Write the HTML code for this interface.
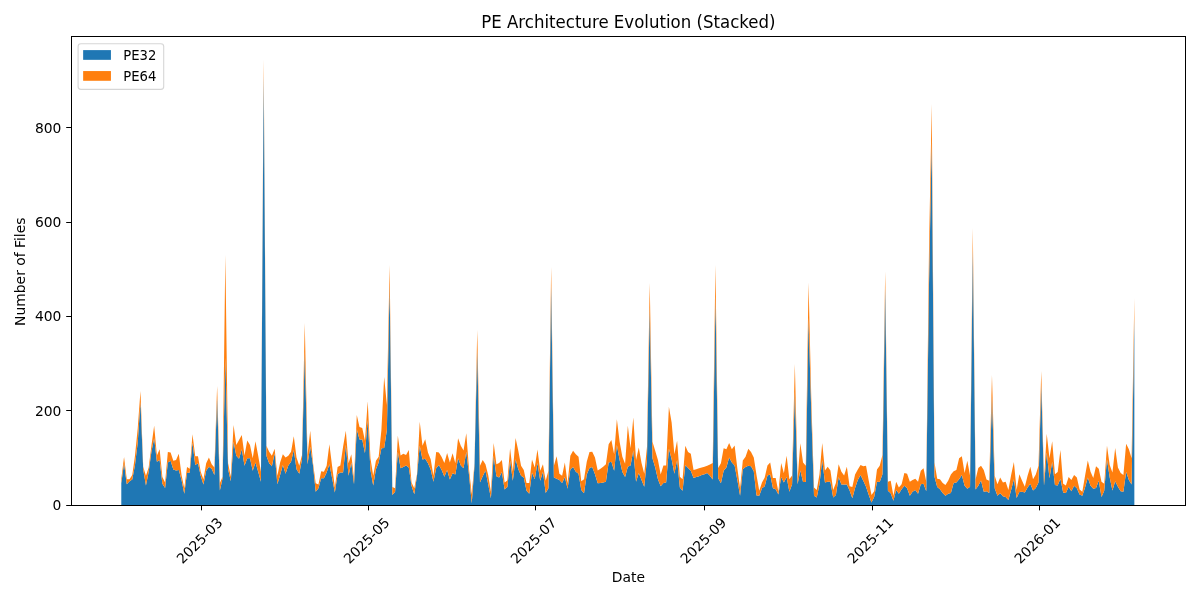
<!DOCTYPE html>
<html lang="en">
<head>
<meta charset="utf-8">
<title>PE Architecture Evolution (Stacked)</title>
<style>
html,body{margin:0;padding:0;background:#fff;}
body{width:1200px;height:600px;overflow:hidden;}
svg{display:block;}
text{font-family:"DejaVu Sans","Liberation Sans",sans-serif;fill:#000;}
.t{font-size:13.8889px;}
.h{font-size:16.6667px;}
</style>
</head>
<body>
<svg width="1200" height="600" viewBox="0 0 1200 600" role="img" aria-label="PE Architecture Evolution (Stacked)">
<rect x="0" y="0" width="1200" height="600" fill="#ffffff"/>
<g id="areas">
<path id="pe32" fill="#1f77b4" d="M121.3,505.08L121.3,483.33L124.04,463.33L126.78,484.17L129.52,481.25L132.26,479.58L134.99,465L137.73,442.5L140.47,402L143.21,469.58L145.95,485.42L148.68,471.67L151.42,451.67L154.16,438.33L156.9,461.67L159.64,460L162.37,483.75L165.11,487.92L167.85,462.5L170.59,460.83L173.33,469.58L176.06,470.42L178.8,470L181.54,480L184.28,493.75L187.02,472.92L189.75,472.5L192.49,442.5L195.23,465L197.97,463.33L200.71,475.83L203.44,484.58L206.18,470.83L208.92,466.67L211.66,468.75L214.4,475L217.13,398L219.87,490.42L222.61,478.33L225.35,358L228.09,469.17L230.82,481.25L233.56,441.67L236.3,455.83L239.04,458.75L241.77,449.17L244.51,465.83L247.25,458.33L249.99,458.33L252.73,470.83L255.46,462.5L258.2,471.67L260.94,481.67L263.68,76L266.42,455.83L269.15,463.33L271.89,466.25L274.63,453.33L277.37,484.17L280.11,475L282.84,465L285.58,473.75L288.32,465.42L291.06,461.67L293.8,450L296.53,469.17L299.27,473.75L302.01,459.17L304.75,352L307.49,464.17L310.22,446.67L312.96,465L315.7,491.67L318.44,488.33L321.18,478.33L323.91,478.33L326.65,472.5L329.39,464.17L332.13,478.33L334.87,492.5L337.6,474.17L340.34,472.5L343.08,472.5L345.82,445L348.56,475.83L351.29,462.5L354.03,484.17L356.77,429.17L359.51,439.58L362.24,439.58L364.98,453.33L367.72,420L370.46,470L373.2,485.42L375.93,469.17L378.67,462.5L381.41,448.33L384.15,448L386.89,430L389.62,285L392.36,495L395.1,491.67L397.84,451.67L400.58,468.33L403.31,467.08L406.05,465.42L408.79,467.5L411.53,485.83L414.27,494.17L417,475.83L419.74,445.83L422.48,459.58L425.22,458.75L427.96,463.33L430.69,469.58L433.43,481.67L436.17,468.33L438.91,465L441.65,470L444.38,476.67L447.12,470L449.86,479.58L452.6,473.33L455.34,474.58L458.07,458.33L460.81,465.42L463.55,468.33L466.29,451.67L469.03,475L471.76,503.33L474.5,465.83L477.24,350L479.98,482.5L482.71,476.25L485.45,470.42L488.19,484.17L490.93,498.33L493.67,455.83L496.4,476.25L499.14,477.5L501.88,472.08L504.62,489.58L507.36,487.08L510.09,460.42L512.83,480.83L515.57,459.17L518.31,469.17L521.05,475.83L523.78,477.5L526.52,490.83L529.26,493.75L532,472.5L534.74,479.17L537.47,462.92L540.21,480.83L542.95,471.67L545.69,492.92L548.43,488.33L551.16,286L553.9,477.5L556.64,478.75L559.38,480L562.12,482.92L564.85,477.08L567.59,488.75L570.33,469.58L573.07,467.08L575.81,471.67L578.54,473.75L581.28,490L584.02,493.33L586.76,474.58L589.5,467.92L592.23,467.08L594.97,474.17L597.71,483.33L600.45,482.92L603.18,482.5L605.92,481.67L608.66,462.5L611.4,461.67L614.14,470.83L616.87,445L619.61,460L622.35,472.08L625.09,477.08L627.83,466.67L630.56,465.42L633.3,450.42L636.04,481.67L638.78,472.92L641.52,480L644.25,486.67L646.99,459.17L649.73,308L652.47,458.33L655.21,467.5L657.94,479.17L660.68,486.25L663.42,482.92L666.16,482.5L668.9,448.75L671.63,459.17L674.37,473.75L677.11,460L679.85,487.5L682.59,490.83L685.32,465L688.06,467.92L690.8,470.83L693.54,477.92L696.28,477.08L699.01,476.25L701.75,475L704.49,474.17L707.23,472.92L709.97,475.83L712.7,479.58L715.44,297L718.18,478.33L720.92,483.33L723.65,470.83L726.39,467.5L729.13,457.5L731.87,462.5L734.61,465.42L737.34,480L740.08,495.83L742.82,469.17L745.56,467.08L748.3,465.83L751.03,466.25L753.77,471.25L756.51,495.42L759.25,495.83L761.99,488.33L764.72,486.25L767.46,475.42L770.2,474.58L772.94,488.33L775.68,489.17L778.41,494.58L781.15,477.08L783.89,482.5L786.63,477.08L789.37,491.67L792.1,484.17L794.84,392L797.58,484.17L800.32,470.42L803.06,482.08L805.79,482.08L808.53,318L811.27,412L814.01,495.83L816.75,497.5L819.48,484.17L822.22,460L824.96,482.5L827.7,481.67L830.43,481.67L833.17,497.5L835.91,495L838.65,477.08L841.39,484.58L844.12,484.58L846.86,484.58L849.6,490.42L852.34,498.33L855.08,487.92L857.81,480L860.55,475L863.29,480.83L866.03,486.67L868.77,495L871.5,502.5L874.24,496.67L876.98,481.67L879.72,482.08L882.46,474.17L885.19,288L887.93,490.83L890.67,493.33L893.41,500.83L896.15,490L898.88,493.75L901.62,489.17L904.36,485.83L907.1,488.33L909.84,495.83L912.57,491.67L915.31,490L918.05,493.75L920.79,484.17L923.53,483.75L926.26,491.25L929,285L931.74,140L934.48,476.67L937.22,487.08L939.95,489.17L942.69,492.92L945.43,495.83L948.17,493.75L950.9,492.92L953.64,482.92L956.38,482.5L959.12,479.17L961.86,475L964.59,485.83L967.33,488.75L970.07,486.67L972.81,250L975.55,489.58L978.28,485.83L981.02,480.42L983.76,491.67L986.5,491.25L989.24,492.92L991.97,396L994.71,488.33L997.45,495.83L1000.19,493.33L1002.93,496.25L1005.66,497.08L1008.4,500L1011.14,490L1013.88,479.17L1016.62,497.92L1019.35,492.08L1022.09,491.67L1024.83,492.5L1027.57,487.5L1030.31,483.75L1033.04,490.42L1035.78,487.92L1038.52,482.5L1041.26,385L1044,485.83L1046.73,452.5L1049.47,478.33L1052.21,461.67L1054.95,485L1057.69,485.42L1060.42,478.75L1063.16,492.5L1065.9,492.92L1068.64,486.67L1071.37,491.25L1074.11,485.83L1076.85,488.33L1079.59,494.58L1082.33,495.83L1085.06,487.5L1087.8,477.5L1090.54,485.83L1093.28,488.75L1096.02,487.92L1098.75,480.83L1101.49,497.08L1104.23,490.83L1106.97,459.17L1109.71,477.5L1112.44,490.42L1115.18,481.25L1117.92,486.67L1120.66,491.25L1123.4,491.67L1126.13,471.67L1128.87,480L1131.61,484.58L1134.35,318L1134.35,505.08Z"/>
<path id="pe64" fill="#ff7f0e" d="M121.3,483.33L121.3,478.75L124.04,457.08L126.78,479.17L129.52,479.17L132.26,475L134.99,455.83L137.73,428.33L140.47,391L143.21,466.67L145.95,475.83L148.68,467.5L151.42,445.83L154.16,425.83L156.9,455.42L159.64,449.17L162.37,477.08L165.11,482.5L167.85,452.08L170.59,452.5L173.33,460.83L176.06,460L178.8,453.75L181.54,475L184.28,488.33L187.02,467.08L189.75,468.75L192.49,434.17L195.23,456.25L197.97,456.25L200.71,471.67L203.44,479.17L206.18,463.33L208.92,457.5L211.66,464.17L214.4,467.5L217.13,386L219.87,482.92L222.61,476.67L225.35,255L228.09,463.33L230.82,476.67L233.56,425L236.3,445L239.04,440L241.77,435L244.51,455.42L247.25,440.42L249.99,445L252.73,458.33L255.46,441.25L258.2,455.83L260.94,471.67L263.68,59.5L266.42,445.83L269.15,451.67L271.89,455.83L274.63,448.75L277.37,475.83L280.11,462.5L282.84,454.17L285.58,457.5L288.32,455.83L291.06,451.67L293.8,436.25L296.53,457.5L299.27,465.83L302.01,455L304.75,323L307.49,455L310.22,430.83L312.96,462.5L315.7,483.33L318.44,484.58L321.18,471.25L323.91,471.67L326.65,465.83L329.39,444.17L332.13,466.25L334.87,487.5L337.6,467.08L340.34,465.42L343.08,446.67L345.82,430.83L348.56,463.33L351.29,454.17L354.03,479.17L356.77,415L359.51,427.08L362.24,427.92L364.98,440.83L367.72,401.25L370.46,458.33L373.2,475.83L375.93,460.83L378.67,456.67L381.41,430L384.15,377L386.89,405L389.62,265L392.36,487.08L395.1,488.33L397.84,435.83L400.58,455.42L403.31,453.75L406.05,455L408.79,450L411.53,482.5L414.27,488.33L417,474.17L419.74,421.67L422.48,445.83L425.22,439.17L427.96,452.5L430.69,459.17L433.43,475.83L436.17,452.08L438.91,452.5L441.65,457.08L444.38,462.92L447.12,452.92L449.86,462.5L452.6,453.33L455.34,463.33L458.07,438.33L460.81,445.83L463.55,450.42L466.29,433.33L469.03,469.17L471.76,494.17L474.5,463.33L477.24,330L479.98,465.83L482.71,460L485.45,464.17L488.19,475L490.93,491.67L493.67,442.92L496.4,464.17L499.14,462.92L501.88,460L504.62,482.5L507.36,480.42L510.09,448.33L512.83,471.67L515.57,437.92L518.31,450.83L521.05,465.83L523.78,470L526.52,482.92L529.26,482.92L532,459.58L534.74,467.5L537.47,449.58L540.21,470.83L542.95,464.17L545.69,480.83L548.43,470.83L551.16,267L553.9,465.83L556.64,456.25L559.38,473.75L562.12,475.83L564.85,462.5L567.59,483.33L570.33,455.83L573.07,450.83L575.81,454.17L578.54,456.67L581.28,481.25L584.02,479.17L586.76,461.67L589.5,452.08L592.23,451.67L594.97,457.5L597.71,470.42L600.45,468.75L603.18,466.67L605.92,464.17L608.66,444.17L611.4,440L614.14,454.17L616.87,419.17L619.61,441.67L622.35,456.67L625.09,463.75L627.83,425.83L630.56,448.33L633.3,417.5L636.04,460L638.78,447.5L641.52,462.92L644.25,473.75L646.99,446.67L649.73,283L652.47,441.67L655.21,450.83L657.94,460L660.68,474.58L663.42,465.42L666.16,465.42L668.9,406.67L671.63,422.5L674.37,454.17L677.11,440.83L679.85,476.67L682.59,479.17L685.32,445.83L688.06,452.08L690.8,453.75L693.54,470L696.28,469.17L699.01,468.33L701.75,467.5L704.49,466.67L707.23,465.83L709.97,464.58L712.7,462.92L715.44,265L718.18,467.92L720.92,463.33L723.65,448.33L726.39,449.17L729.13,442.92L731.87,449.17L734.61,445.42L737.34,468.33L740.08,488.33L742.82,460.42L745.56,456.67L748.3,448.75L751.03,452.08L753.77,457.5L756.51,475L759.25,490.83L761.99,482.5L764.72,477.5L767.46,465.42L770.2,462.5L772.94,477.92L775.68,477.92L778.41,491.67L781.15,462.92L783.89,473.33L786.63,455.83L789.37,479.17L792.1,475.42L794.84,364L797.58,479.17L800.32,443.33L803.06,462.5L805.79,465.83L808.53,282.5L811.27,398L814.01,487.5L816.75,490L819.48,474.17L822.22,442.92L824.96,470.42L827.7,466.67L830.43,470.42L833.17,490L835.91,482.92L838.65,464.17L841.39,471.67L844.12,475.42L846.86,466.67L849.6,486.25L852.34,487.08L855.08,474.58L857.81,469.58L860.55,465L863.29,466.25L866.03,465.83L868.77,480.83L871.5,495L874.24,491.25L876.98,469.58L879.72,465.83L882.46,455L885.19,271.5L887.93,481.67L890.67,480.83L893.41,495.83L896.15,481.67L898.88,487.5L901.62,484.17L904.36,472.92L907.1,473.75L909.84,481.67L912.57,480L915.31,478.75L918.05,481.67L920.79,470.83L923.53,468.33L926.26,481.67L929,250L931.74,104L934.48,462.5L937.22,478.75L939.95,479.17L942.69,482.92L945.43,485L948.17,480.83L950.9,474.58L953.64,471.25L956.38,470L959.12,458.33L961.86,456.25L964.59,472.92L967.33,460.83L970.07,475.83L972.81,228L975.55,479.58L978.28,467.92L981.02,465.83L983.76,470L986.5,479.58L989.24,480.83L991.97,375L994.71,475.83L997.45,484.17L1000.19,477.5L1002.93,482.5L1005.66,481.67L1008.4,490L1011.14,475L1013.88,462.08L1016.62,490L1019.35,474.17L1022.09,480.83L1024.83,486.67L1027.57,475.83L1030.31,466.67L1033.04,479.17L1035.78,474.58L1038.52,465.83L1041.26,371L1044,480L1046.73,433.75L1049.47,458.33L1052.21,441.25L1054.95,474.17L1057.69,472.08L1060.42,450L1063.16,483.75L1065.9,485.42L1068.64,477.08L1071.37,480L1074.11,475L1076.85,477.5L1079.59,489.58L1082.33,491.67L1085.06,475.83L1087.8,460.42L1090.54,471.67L1093.28,477.92L1096.02,466.25L1098.75,468.75L1101.49,481.67L1104.23,483.75L1106.97,445.83L1109.71,465L1112.44,472.5L1115.18,447.92L1117.92,467.5L1120.66,472.92L1123.4,475L1126.13,443.75L1128.87,449.17L1131.61,458.33L1134.35,298L1134.35,318L1131.61,484.58L1128.87,480L1126.13,471.67L1123.4,491.67L1120.66,491.25L1117.92,486.67L1115.18,481.25L1112.44,490.42L1109.71,477.5L1106.97,459.17L1104.23,490.83L1101.49,497.08L1098.75,480.83L1096.02,487.92L1093.28,488.75L1090.54,485.83L1087.8,477.5L1085.06,487.5L1082.33,495.83L1079.59,494.58L1076.85,488.33L1074.11,485.83L1071.37,491.25L1068.64,486.67L1065.9,492.92L1063.16,492.5L1060.42,478.75L1057.69,485.42L1054.95,485L1052.21,461.67L1049.47,478.33L1046.73,452.5L1044,485.83L1041.26,385L1038.52,482.5L1035.78,487.92L1033.04,490.42L1030.31,483.75L1027.57,487.5L1024.83,492.5L1022.09,491.67L1019.35,492.08L1016.62,497.92L1013.88,479.17L1011.14,490L1008.4,500L1005.66,497.08L1002.93,496.25L1000.19,493.33L997.45,495.83L994.71,488.33L991.97,396L989.24,492.92L986.5,491.25L983.76,491.67L981.02,480.42L978.28,485.83L975.55,489.58L972.81,250L970.07,486.67L967.33,488.75L964.59,485.83L961.86,475L959.12,479.17L956.38,482.5L953.64,482.92L950.9,492.92L948.17,493.75L945.43,495.83L942.69,492.92L939.95,489.17L937.22,487.08L934.48,476.67L931.74,140L929,285L926.26,491.25L923.53,483.75L920.79,484.17L918.05,493.75L915.31,490L912.57,491.67L909.84,495.83L907.1,488.33L904.36,485.83L901.62,489.17L898.88,493.75L896.15,490L893.41,500.83L890.67,493.33L887.93,490.83L885.19,288L882.46,474.17L879.72,482.08L876.98,481.67L874.24,496.67L871.5,502.5L868.77,495L866.03,486.67L863.29,480.83L860.55,475L857.81,480L855.08,487.92L852.34,498.33L849.6,490.42L846.86,484.58L844.12,484.58L841.39,484.58L838.65,477.08L835.91,495L833.17,497.5L830.43,481.67L827.7,481.67L824.96,482.5L822.22,460L819.48,484.17L816.75,497.5L814.01,495.83L811.27,412L808.53,318L805.79,482.08L803.06,482.08L800.32,470.42L797.58,484.17L794.84,392L792.1,484.17L789.37,491.67L786.63,477.08L783.89,482.5L781.15,477.08L778.41,494.58L775.68,489.17L772.94,488.33L770.2,474.58L767.46,475.42L764.72,486.25L761.99,488.33L759.25,495.83L756.51,495.42L753.77,471.25L751.03,466.25L748.3,465.83L745.56,467.08L742.82,469.17L740.08,495.83L737.34,480L734.61,465.42L731.87,462.5L729.13,457.5L726.39,467.5L723.65,470.83L720.92,483.33L718.18,478.33L715.44,297L712.7,479.58L709.97,475.83L707.23,472.92L704.49,474.17L701.75,475L699.01,476.25L696.28,477.08L693.54,477.92L690.8,470.83L688.06,467.92L685.32,465L682.59,490.83L679.85,487.5L677.11,460L674.37,473.75L671.63,459.17L668.9,448.75L666.16,482.5L663.42,482.92L660.68,486.25L657.94,479.17L655.21,467.5L652.47,458.33L649.73,308L646.99,459.17L644.25,486.67L641.52,480L638.78,472.92L636.04,481.67L633.3,450.42L630.56,465.42L627.83,466.67L625.09,477.08L622.35,472.08L619.61,460L616.87,445L614.14,470.83L611.4,461.67L608.66,462.5L605.92,481.67L603.18,482.5L600.45,482.92L597.71,483.33L594.97,474.17L592.23,467.08L589.5,467.92L586.76,474.58L584.02,493.33L581.28,490L578.54,473.75L575.81,471.67L573.07,467.08L570.33,469.58L567.59,488.75L564.85,477.08L562.12,482.92L559.38,480L556.64,478.75L553.9,477.5L551.16,286L548.43,488.33L545.69,492.92L542.95,471.67L540.21,480.83L537.47,462.92L534.74,479.17L532,472.5L529.26,493.75L526.52,490.83L523.78,477.5L521.05,475.83L518.31,469.17L515.57,459.17L512.83,480.83L510.09,460.42L507.36,487.08L504.62,489.58L501.88,472.08L499.14,477.5L496.4,476.25L493.67,455.83L490.93,498.33L488.19,484.17L485.45,470.42L482.71,476.25L479.98,482.5L477.24,350L474.5,465.83L471.76,503.33L469.03,475L466.29,451.67L463.55,468.33L460.81,465.42L458.07,458.33L455.34,474.58L452.6,473.33L449.86,479.58L447.12,470L444.38,476.67L441.65,470L438.91,465L436.17,468.33L433.43,481.67L430.69,469.58L427.96,463.33L425.22,458.75L422.48,459.58L419.74,445.83L417,475.83L414.27,494.17L411.53,485.83L408.79,467.5L406.05,465.42L403.31,467.08L400.58,468.33L397.84,451.67L395.1,491.67L392.36,495L389.62,285L386.89,430L384.15,448L381.41,448.33L378.67,462.5L375.93,469.17L373.2,485.42L370.46,470L367.72,420L364.98,453.33L362.24,439.58L359.51,439.58L356.77,429.17L354.03,484.17L351.29,462.5L348.56,475.83L345.82,445L343.08,472.5L340.34,472.5L337.6,474.17L334.87,492.5L332.13,478.33L329.39,464.17L326.65,472.5L323.91,478.33L321.18,478.33L318.44,488.33L315.7,491.67L312.96,465L310.22,446.67L307.49,464.17L304.75,352L302.01,459.17L299.27,473.75L296.53,469.17L293.8,450L291.06,461.67L288.32,465.42L285.58,473.75L282.84,465L280.11,475L277.37,484.17L274.63,453.33L271.89,466.25L269.15,463.33L266.42,455.83L263.68,76L260.94,481.67L258.2,471.67L255.46,462.5L252.73,470.83L249.99,458.33L247.25,458.33L244.51,465.83L241.77,449.17L239.04,458.75L236.3,455.83L233.56,441.67L230.82,481.25L228.09,469.17L225.35,358L222.61,478.33L219.87,490.42L217.13,398L214.4,475L211.66,468.75L208.92,466.67L206.18,470.83L203.44,484.58L200.71,475.83L197.97,463.33L195.23,465L192.49,442.5L189.75,472.5L187.02,472.92L184.28,493.75L181.54,480L178.8,470L176.06,470.42L173.33,469.58L170.59,460.83L167.85,462.5L165.11,487.92L162.37,483.75L159.64,460L156.9,461.67L154.16,438.33L151.42,451.67L148.68,471.67L145.95,485.42L143.21,469.58L140.47,402L137.73,442.5L134.99,465L132.26,479.58L129.52,481.25L126.78,484.17L124.04,463.33L121.3,483.33Z"/>
</g>
<g id="xticks">
<rect x="201" y="506" width="1" height="4" fill="#000"/><rect x="201" y="510" width="1" height="1" fill="#000" opacity="0.35"/>
<text class="t" text-anchor="middle" transform="translate(199.51,540.58) rotate(-45)" x="0" y="0" dy="0.36em">2025-03</text>
<rect x="368" y="506" width="1" height="4" fill="#000"/><rect x="368" y="510" width="1" height="1" fill="#000" opacity="0.35"/>
<text class="t" text-anchor="middle" transform="translate(366.52,540.58) rotate(-45)" x="0" y="0" dy="0.36em">2025-05</text>
<rect x="535" y="506" width="1" height="4" fill="#000"/><rect x="535" y="510" width="1" height="1" fill="#000" opacity="0.35"/>
<text class="t" text-anchor="middle" transform="translate(533.54,540.58) rotate(-45)" x="0" y="0" dy="0.36em">2025-07</text>
<rect x="704" y="506" width="1" height="4" fill="#000"/><rect x="704" y="510" width="1" height="1" fill="#000" opacity="0.35"/>
<text class="t" text-anchor="middle" transform="translate(703.29,540.58) rotate(-45)" x="0" y="0" dy="0.36em">2025-09</text>
<rect x="872" y="506" width="1" height="4" fill="#000"/><rect x="872" y="510" width="1" height="1" fill="#000" opacity="0.35"/>
<text class="t" text-anchor="middle" transform="translate(870.3,540.58) rotate(-45)" x="0" y="0" dy="0.36em">2025-11</text>
<rect x="1039" y="506" width="1" height="4" fill="#000"/><rect x="1039" y="510" width="1" height="1" fill="#000" opacity="0.35"/>
<text class="t" text-anchor="middle" transform="translate(1037.32,540.58) rotate(-45)" x="0" y="0" dy="0.36em">2026-01</text>
</g>
<g id="yticks">
<rect x="67" y="505" width="4" height="1" fill="#000"/><rect x="66" y="505" width="1" height="1" fill="#000" opacity="0.8"/>
<text class="t" text-anchor="end" x="61.45" y="509.55">0</text>
<rect x="67" y="410" width="4" height="1" fill="#000"/><rect x="66" y="410" width="1" height="1" fill="#000" opacity="0.8"/>
<text class="t" text-anchor="end" x="61.45" y="415.55">200</text>
<rect x="67" y="316" width="4" height="1" fill="#000"/><rect x="66" y="316" width="1" height="1" fill="#000" opacity="0.8"/>
<text class="t" text-anchor="end" x="61.45" y="320.55">400</text>
<rect x="67" y="222" width="4" height="1" fill="#000"/><rect x="66" y="222" width="1" height="1" fill="#000" opacity="0.8"/>
<text class="t" text-anchor="end" x="61.45" y="226.55">600</text>
<rect x="67" y="127" width="4" height="1" fill="#000"/><rect x="66" y="127" width="1" height="1" fill="#000" opacity="0.8"/>
<text class="t" text-anchor="end" x="61.45" y="132.55">800</text>
</g>
<g id="spines" fill="#000">
<rect x="71" y="36" width="1" height="470"/>
<rect x="1185" y="36" width="1" height="470"/>
<rect x="71" y="36" width="1115" height="1"/>
<rect x="71" y="505" width="1115" height="1"/>
</g>
<text class="h" text-anchor="middle" transform="translate(628.38,28.1) scale(1,1.07)" textLength="294.3" lengthAdjust="spacingAndGlyphs">PE Architecture Evolution (Stacked)</text>
<text class="t" text-anchor="middle" x="628.4" y="582.2">Date</text>
<text class="t" text-anchor="middle" transform="translate(25.2,271.7) rotate(-90)">Number of Files</text>
<g id="legend">
<rect x="78.1" y="43.8" width="85.6" height="45.6" rx="2.8" ry="2.8" fill="#ffffff" fill-opacity="0.8" stroke="#cccccc" stroke-opacity="0.8" stroke-width="1.11"/>
<rect x="83.15" y="50.11" width="27.78" height="9.72" fill="#1f77b4"/>
<rect x="83.15" y="71.06" width="27.78" height="9.72" fill="#ff7f0e"/>
<text class="t" x="123.25" y="60" textLength="33.1" lengthAdjust="spacingAndGlyphs">PE32</text>
<text class="t" x="123.25" y="80.95" textLength="33.1" lengthAdjust="spacingAndGlyphs">PE64</text>
</g>
</svg>
</body>
</html>
